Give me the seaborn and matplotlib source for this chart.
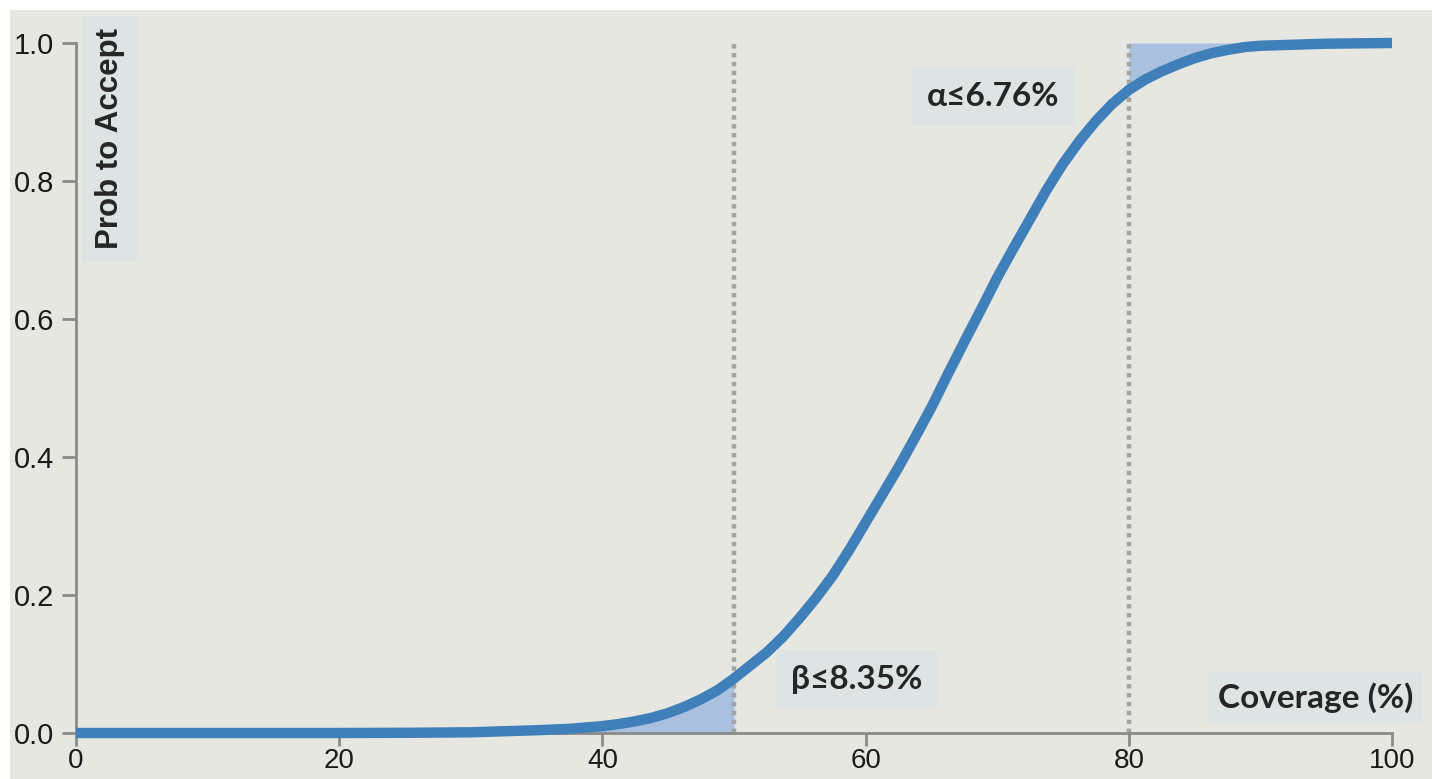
import matplotlib
matplotlib.use("Agg")
import matplotlib.pyplot as plt
import seaborn as sns
import pandas as pd
import numpy as np
from matplotlib.patches import Rectangle

# Data
coverage = [0, 10, 20, 25, 30, 35, 37.5, 40, 41.25, 42.5, 43.75, 45, 46.25,
            47.5, 48.75, 50, 51.25, 52.5, 53.75, 55, 56.25, 57.5, 58.75, 60,
            61.25, 62.5, 63.75, 65, 66.25, 67.5, 68.75, 70, 71.25, 72.5, 73.75,
            75, 76.25, 77.5, 78.75, 80, 81.25, 82.5, 83.75, 85, 86.25, 87.5,
            88.75, 90, 95, 100]
prob_accept = [0.0, 0.0, 0.0, 0.0003, 0.001, 0.004, 0.006, 0.010, 0.013, 0.017,
               0.022, 0.029, 0.038, 0.049, 0.062, 0.079, 0.098, 0.117, 0.140,
               0.167, 0.196, 0.228, 0.265, 0.305, 0.345, 0.385, 0.428, 0.472,
               0.520, 0.567, 0.613, 0.660, 0.703, 0.745, 0.787, 0.825, 0.858,
               0.887, 0.912, 0.932, 0.947, 0.959, 0.969, 0.978, 0.985, 0.990,
               0.994, 0.996, 0.999, 1.0]
limits = [50, 80]
x_ticks = [0, 20, 40, 60, 80, 100]
y_ticks = [0.0, 0.2, 0.4, 0.6, 0.8, 1.0]
alpha_label = "α≤6.76%"
beta_label = "β≤8.35%"
x_label = "Coverage (%)"
y_label = "Prob to Accept"

df = pd.DataFrame({"coverage": coverage, "prob": prob_accept})

sns.set_style("white")
plt.rcParams["font.family"] = ["Liberation Sans", "DejaVu Sans"]

W, H = 1432, 779
fig = plt.figure(figsize=(W / 100, H / 100), dpi=100)
fig.patch.set_facecolor("white")
bg = "#e6e7e0"
fig.patches.append(Rectangle((10 / W, 0), 1 - 10 / W, 1 - 10 / H,
                             transform=fig.transFigure, facecolor=bg,
                             edgecolor="none", zorder=-10))

ax = fig.add_axes([76 / W, 46 / H, (1392 - 76) / W, (733 - 43) / H])
ax.set_facecolor(bg)
ax.patch.set_alpha(0)

fill_c = "#a9c0de"
line_c = "#3f7fba"

x = np.array(coverage)
y = np.array(prob_accept)
mb = x <= limits[0]
ax.fill_between(x[mb], 0, y[mb], color=fill_c, lw=0, zorder=1)
ma = x >= limits[1]
ax.fill_between(x[ma], y[ma], 1.0, color=fill_c, lw=0, zorder=1)

ax.vlines(limits, 0, 1.0, colors="#a3a3a3", linestyles=(0, (1, 1)), lw=3.2, zorder=2)

sns.lineplot(data=df, x="coverage", y="prob", ax=ax, color=line_c, lw=7.5,
             zorder=3, clip_on=False)
ln = ax.lines[-1]
ln.set_solid_capstyle("butt")
ln.set_solid_joinstyle("round")

ax.set_xlim(0, 100)
ax.set_ylim(0, 1.0)
ax.set_xticks(x_ticks)
ax.set_yticks(y_ticks)
ax.set_xticklabels([str(t) for t in x_ticks])
ax.set_yticklabels([f"{t:.1f}" for t in y_ticks])
ax.set_xlabel("")
ax.set_ylabel("")
for s in ["top", "right"]:
    ax.spines[s].set_visible(False)
for s in ["left", "bottom"]:
    ax.spines[s].set_color("#8a8a8a")
    ax.spines[s].set_linewidth(2)
ax.tick_params(axis="both", which="major", width=2, color="#8a8a8a",
               labelcolor="#1a1a1a", direction="out", bottom=True, left=True)
ax.tick_params(axis="y", length=10, labelsize=21, pad=6)
ax.tick_params(axis="x", length=9, labelsize=20, pad=1.5)

box = dict(boxstyle="square,pad=0.45", facecolor="#dee4e4", edgecolor="none")
ann_font = ["Lato", "DejaVu Sans"]

ax.text(2.58, 0.861, y_label, rotation=90, ha="center", va="center",
        fontsize=22.5, fontweight="bold", family=["Liberation Sans", "DejaVu Sans"],
        bbox=dict(boxstyle="square,pad=0.4", facecolor="#dee4e4", edgecolor="none"),
        clip_on=False, zorder=5)
ax.text(69.7, 0.922, alpha_label, ha="center", va="center", fontsize=24,
        fontweight="bold", family=ann_font, bbox=box, zorder=5)
ax.text(59.3, 0.077, beta_label, ha="center", va="center", fontsize=24,
        fontweight="bold", family=ann_font, bbox=box, zorder=5)
ax.text(94.2, 0.051, x_label, ha="center", va="center", fontsize=24,
        fontweight="bold", family=ann_font, bbox=dict(boxstyle="square,pad=0.3",
        facecolor="#dee4e4", edgecolor="none"), clip_on=False, zorder=5)

fig.savefig("out.png", dpi=100, facecolor=fig.get_facecolor())
